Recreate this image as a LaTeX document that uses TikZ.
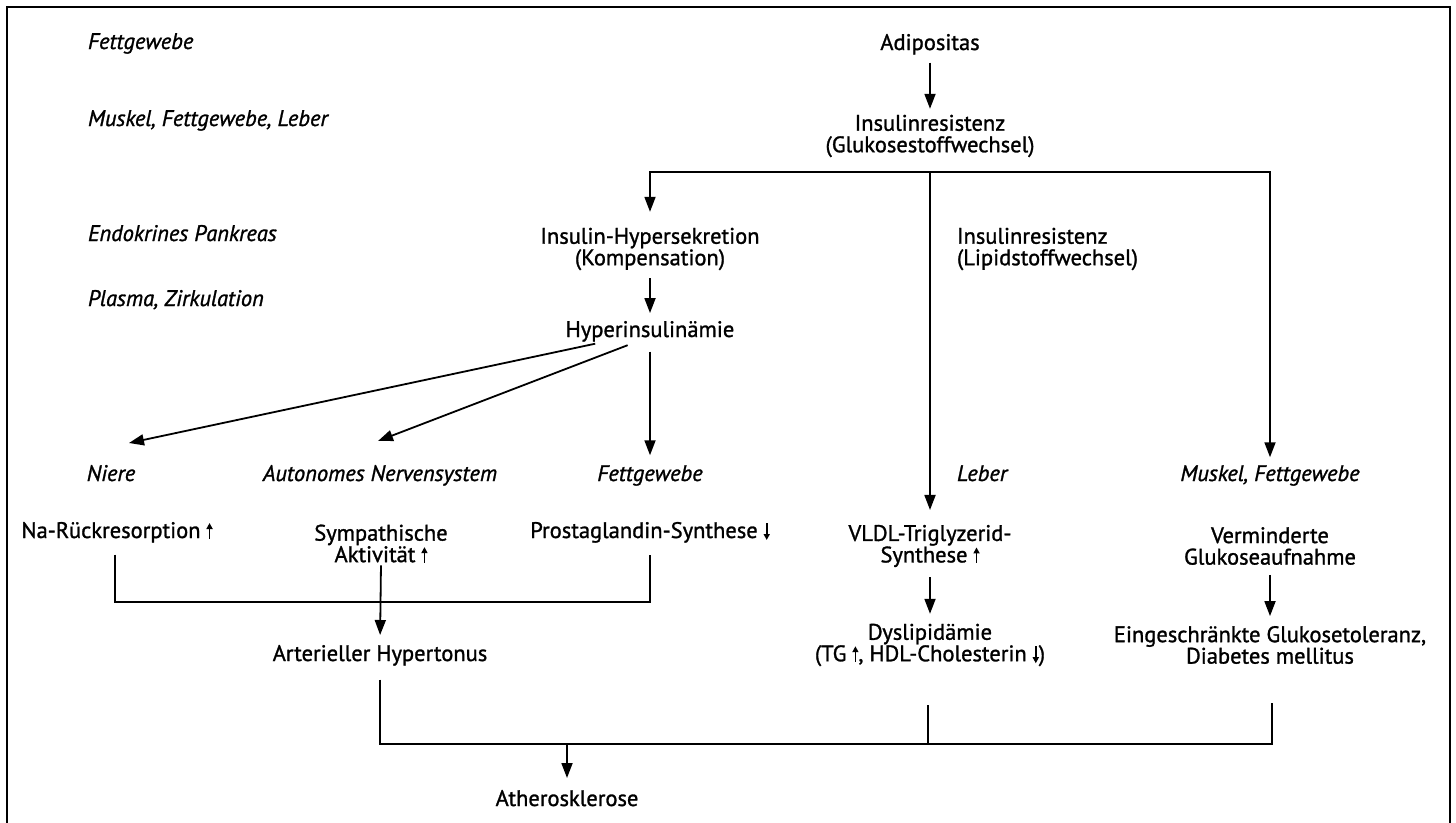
\documentclass[tikz,border=0pt]{standalone}
\usepackage{fontspec}
\setmainfont{PT Sans}[FakeBold=1.2]
\usetikzlibrary{arrows.meta}
\newcommand\myup{\tikz[baseline=0pt]\draw[line width=1.6pt,-{Triangle[length=6pt,width=6pt]}] (0pt,-0.5pt) -- (0pt,15pt);}
\newcommand\mydown{\tikz[baseline=0pt]\draw[line width=1.6pt,-{Triangle[length=6pt,width=6pt]}] (0pt,15pt) -- (0pt,-2pt);}
\begin{document}
\begin{tikzpicture}[x=1pt,y=-1pt,
  every node/.style={inner sep=0pt,outer sep=0pt,font=\fontsize{22.5}{21.5}\selectfont,align=center},
  lab/.style={font=\fontsize{22.5}{21.5}\selectfont\itshape},
  ln/.style={line width=1.8pt},
  arr/.style={ln,-{Triangle[length=15pt,width=11pt]}}]
\useasboundingbox (0,0) rectangle (1456,822);
\draw[line width=1.8pt] (7,830) -- (7,7) -- (1450,7) -- (1450,830);
% left labels
\node[lab,anchor=base west] (l1) at (88,49) {Fettgewebe};
\node[lab,anchor=base west] (l2) at (88,126) {Muskel, Fettgewebe, Leber};
\node[lab,anchor=base west] (l3) at (88,241) {Endokrines Pankreas};
\node[lab,anchor=base west] (l4) at (88,306) {Plasma, Zirkulation};
% main nodes
\node[anchor=base] (adip) at (930,50) {Adipositas};
\node (ir) at (930,136) {Insulinresistenz\\(Glukosestoffwechsel)};
\node (ihs) at (650,249) {Insulin-Hypersekretion\\(Kompensation)};
\node[anchor=west,align=left] (irl) at (957,249) {Insulinresistenz\\(Lipidstoffwechsel)};
\node[anchor=base] (hyp) at (650,337) {Hyperinsulinämie};
\node[lab,anchor=base] (niere) at (111,481) {Niere};
\node[lab,anchor=base] (ans) at (380,481) {Autonomes Nervensystem};
\node[lab,anchor=base] (fett) at (650,481) {Fettgewebe};
\node[lab,anchor=base west] (leber) at (957,481) {Leber};
\node[lab,anchor=base] (mf) at (1270,481) {Muskel, Fettgewebe};
\node[anchor=base] (na) at (117,538) {Na-Rückresorption \myup};
\node (sym) at (381,544) {Sympathische\\Aktivität \myup};
\node[anchor=base] (pros) at (650,538) {Prostaglandin-Synthese \mydown};
\node (vldl) at (930,546) {VLDL-Triglyzerid-\\Synthese \myup};
\node (verm) at (1270,546) {Verminderte\\Glukoseaufnahme};
\node[anchor=base] (art) at (380,661) {Arterieller Hypertonus};
\node (dys) at (930,645) {Dyslipidämie\\(TG \myup, HDL-Cholesterin \mydown)};
\node (eing) at (1270,645) {Eingeschränkte Glukosetoleranz,\\Diabetes mellitus};
\node[anchor=base] (ath) at (567,806) {Atherosklerose};
% junction coordinates
\coordinate (bar) at (930,172);
\coordinate (jl) at (380,602);
\coordinate (jb) at (567,744);
% connectors
\draw[arr,shorten <=8pt,shorten >=6pt] (adip.south) -- (ir.north);
\draw[arr,shorten >=16pt] (bar) -| (ihs.north);
\draw[arr,shorten >=8pt] (bar) -| (mf.north);
\draw[arr,shorten >=15pt] (bar) -- (vldl.north);
\draw[arr,shorten <=8pt,shorten >=8pt] (ihs.south) -- (hyp.north);
\draw[arr,shorten <=10pt] ([xshift=-45pt]hyp.south) -- ([xshift=18pt,yshift=22pt]niere.north);
\draw[arr,shorten <=10pt] ([xshift=-13pt]hyp.south) -- ([xshift=-2pt,yshift=24pt]ans.north);
\draw[arr,shorten <=10pt,shorten >=10pt] (hyp.south) -- (fett.north);
\draw[ln] ([xshift=-2pt,yshift=-12pt]na.south) |- (jl) -| ([yshift=-12pt]pros.south);
\draw[arr,shorten <=2pt,shorten >=10pt] (sym.south) -- (art.north);
\draw[arr,shorten <=10pt,shorten >=10pt] (vldl.south) -- (dys.north);
\draw[arr,shorten <=10pt,shorten >=10pt] (verm.south) -- (eing.north);
\draw[ln] ([yshift=-14pt]art.south) |- (jb) -| ([xshift=2pt,yshift=-39pt]eing.south);
\draw[ln] ([xshift=-2pt,yshift=-39pt]dys.south) -- ([xshift=-2pt]dys.south |- jb);
\draw[arr,shorten >=12pt] (jb) -- (ath.north);
\end{tikzpicture}
\end{document}
